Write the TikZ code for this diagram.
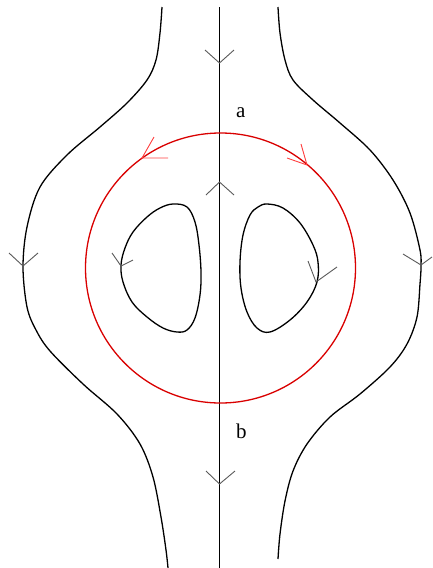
\documentclass[tikz,border=0pt]{standalone}
\usepackage{fontspec}
\setmainfont{Liberation Serif}
\begin{document}
\begin{tikzpicture}[x=1pt,y=-1pt,
  curve/.style={black,line width=1.3pt,line join=round},
  axisline/.style={black,line width=1pt},
  circ/.style={red!85!black,line width=1.3pt},
  vtip/.style={black!65,line width=0.9pt},
  rtip/.style={red!75,line width=0.9pt},
  lbl/.style={font=\fontsize{21}{24}\selectfont,inner sep=0pt,anchor=base west}]
\useasboundingbox (0,0) rectangle (432,568);
% central streamline
\coordinate (ctop) at (219.5,7);
\coordinate (cbot) at (219.5,568);
\draw[axisline] (ctop) -- (cbot);
% red circle
\node[circ,draw,circle,minimum size=270pt,inner sep=0pt] (ring) at (220.5,268) {};
% outer streamlines
\draw[curve] plot[smooth,tension=0.55] coordinates {(162,7) (160,33) (156,60) (147,80) (127,103) (100,127) (67,155) (40,187) (27,227) (23,267) (27,307) (36,330) (50,351) (83,384) (117,414) (140,444) (153,477) (161,517) (166,550) (168,568)};
\draw[curve] plot[smooth,tension=0.55] coordinates {(278,7) (280,33) (285,60) (293,80) (313,100) (340,123) (370,150) (393,180) (410,213) (420,250) (421,267) (420,284) (417,317) (407,344) (390,367) (360,394) (330,417) (307,444) (293,471) (285,501) (280,534) (278,559)};
% inner loops
\draw[curve] plot[smooth cycle,tension=0.6] coordinates {(173,204) (187,207) (195,222) (199,245) (201,272) (200,295) (195,318) (187,330) (177,332) (163,328) (147,317) (132,302) (123,282) (121,265) (125,248) (133,232) (147,217) (160,208)};
\draw[curve] plot[smooth cycle,tension=0.6] coordinates {(267,204) (283,208) (300,223) (313,245) (318,262) (317,282) (307,302) (290,320) (270,332) (257,328) (247,312) (241,288) (240,262) (243,235) (250,215) (258,207)};
% arrow marks on the central line
\draw[vtip] (205,50) -- (219.5,63) -- (234,50);
\draw[vtip] (206,195) -- (219.5,182) -- (234,195);
\draw[vtip] (206,471) -- (219.5,484) -- (235,471);
% arrow marks on outer streamlines
\draw[vtip] (9,253) -- (23,266) -- (38,253);
\draw[vtip] (403,254) -- (421,265) -- (432,257);
% arrow marks on inner loops
\draw[vtip] (112,253) -- (121,266) -- (133,260);
\draw[vtip] (308,261) -- (316,282) -- (337,267);
% arrow marks on circle
\draw[rtip] (168,158) -- (142,158) -- (154,137);
\draw[rtip] (287,158) -- (307,165) -- (301,144);
% labels
\node[lbl] (la) at (236,117) {a};
\node[lbl] (lb) at (236,438) {b};
\end{tikzpicture}
\end{document}
